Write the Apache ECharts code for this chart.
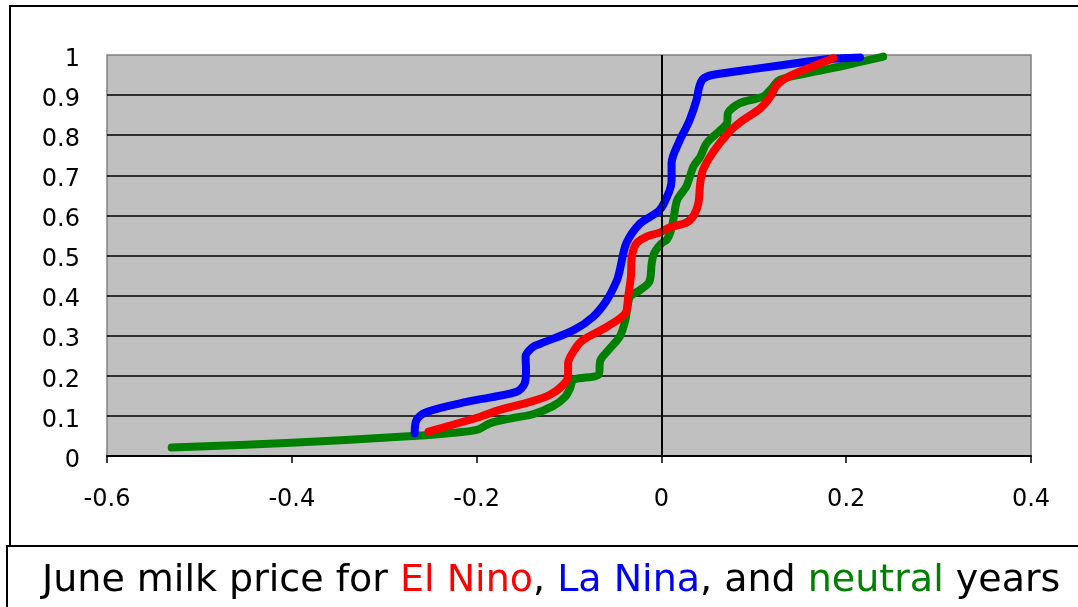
<!DOCTYPE html>
<html>
<head>
<meta charset="utf-8">
<script src="https://cdn.jsdelivr.net/npm/echarts@6/dist/echarts.min.js"></script>
<style>
html,body{margin:0;padding:0;background:#fff;}
#chart{width:1078px;height:607px;}
</style>
</head>
<body>
<div id="chart"></div>
<script>
// La Nina (blue)
const laNinaX = [-0.267, -0.265, -0.254, -0.211, -0.157, -0.148, -0.1465, -0.147, -0.139, -0.131, -0.095, -0.074, -0.059, -0.048, -0.045, -0.038, -0.023, -0.002, 0.009, 0.011, 0.011, 0.020, 0.0255, 0.031, 0.038, 0.041, 0.045, 0.055, 0.103, 0.157, 0.182, 0.215];
const laNinaY = [0.057, 0.090, 0.110, 0.135, 0.160, 0.181, 0.214, 0.248, 0.272, 0.280, 0.314, 0.347, 0.389, 0.439, 0.464, 0.530, 0.580, 0.613, 0.663, 0.688, 0.730, 0.788, 0.813, 0.840, 0.888, 0.921, 0.940, 0.950, 0.966, 0.983, 0.990, 0.994];
// El Nino (red)
const elNinoX = [-0.252, -0.196, -0.175, -0.142, -0.121, -0.106, -0.101, -0.101, -0.094, -0.085, -0.059, -0.039, -0.036, -0.033, -0.032, -0.027, -0.016, -0.002, 0.009, 0.027, 0.035, 0.040, 0.042, 0.045, 0.056, 0.072, 0.085, 0.107, 0.1175, 0.125, 0.136, 0.161, 0.186];
const elNinoY = [0.061, 0.098, 0.115, 0.135, 0.152, 0.178, 0.200, 0.231, 0.265, 0.289, 0.322, 0.356, 0.397, 0.447, 0.497, 0.530, 0.547, 0.557, 0.570, 0.582, 0.600, 0.630, 0.680, 0.713, 0.758, 0.805, 0.832, 0.867, 0.895, 0.925, 0.944, 0.969, 0.992];
// Neutral (green)
const neutralX = [-0.530, -0.400, -0.283, -0.230, -0.200, -0.185, -0.160, -0.139, -0.117, -0.104, -0.099, -0.095, -0.068, -0.066, -0.057, -0.045, -0.039, -0.034, -0.023, -0.013, -0.0105, -0.008, 0.000, 0.006, 0.010, 0.013, 0.017, 0.027, 0.0345, 0.042, 0.049, 0.065, 0.071, 0.072, 0.085, 0.110, 0.118, 0.128, 0.157, 0.2005, 0.240];
const neutralY = [0.021, 0.033, 0.048, 0.057, 0.065, 0.082, 0.095, 0.104, 0.125, 0.148, 0.168, 0.190, 0.203, 0.239, 0.265, 0.298, 0.339, 0.397, 0.414, 0.435, 0.480, 0.505, 0.530, 0.540, 0.560, 0.590, 0.638, 0.672, 0.721, 0.746, 0.780, 0.815, 0.830, 0.855, 0.880, 0.896, 0.913, 0.938, 0.954, 0.975, 0.996];

const xTicks = [-0.6, -0.4, -0.2, 0, 0.2, 0.4];
const yTicks = [0, 0.1, 0.2, 0.3, 0.4, 0.5, 0.6, 0.7, 0.8, 0.9, 1];

const titleParts = [
  ['k', 'June milk price for '], ['r', 'El Nino'], ['k', ', '], ['b', 'La Nina'],
  ['k', ', and '], ['g', 'neutral'], ['k', ' years']
];

function zip(xs, ys) { return xs.map((x, i) => [x, ys[i]]); }
const fmt = v => String(Math.round(v * 10) / 10);

const chart = echarts.init(document.getElementById('chart'), null, {renderer: 'canvas'});
const FF = 'DejaVu Sans';
const richBase = {fontFamily: FF, fontSize: 38};

const lineSeries = (name, data, color) => ({
  name, type: 'line', data, showSymbol: false, smooth: 0.3,
  lineStyle: {color, width: 8, cap: 'round', join: 'round'},
  itemStyle: {color}, z: 3, animation: false
});

chart.setOption({
  animation: false,
  backgroundColor: '#fff',
  graphic: [
    {type: 'rect', z: -10, shape: {x: 10, y: 6, width: 1080, height: 540}, style: {fill: '#fff', stroke: '#000', lineWidth: 2}},
    {type: 'rect', z: -9, shape: {x: 7, y: 546, width: 1080, height: 70}, style: {fill: '#fff', stroke: '#000', lineWidth: 2}}
  ],
  title: {
    text: titleParts.map(p => '{' + p[0] + '|' + p[1] + '}').join(''),
    left: 42, top: 562, padding: 0,
    textStyle: {
      fontFamily: FF, fontSize: 38, fontWeight: 'normal', color: '#000',
      rich: {
        k: Object.assign({color: '#000'}, richBase),
        r: Object.assign({color: '#ff0000'}, richBase),
        b: Object.assign({color: '#0000ff'}, richBase),
        g: Object.assign({color: '#008000'}, richBase)
      }
    }
  },
  grid: {
    left: 107, top: 55, right: 47, bottom: 151,
    show: true, backgroundColor: '#c0c0c0', borderColor: '#808080', borderWidth: 1.5
  },
  xAxis: {
    type: 'value', min: xTicks[0], max: xTicks[xTicks.length - 1], interval: 0.2,
    axisLine: {show: true, onZero: false, lineStyle: {color: '#000', width: 2}},
    axisTick: {show: true, inside: false, length: 7, lineStyle: {color: '#000', width: 1.5}},
    splitLine: {show: false},
    axisLabel: {color: '#000', fontFamily: FF, fontSize: 24, margin: 32, formatter: fmt}
  },
  yAxis: {
    type: 'value', min: yTicks[0], max: yTicks[yTicks.length - 1], interval: 0.1,
    axisLine: {show: false},
    axisTick: {show: false},
    splitLine: {show: true, showMinLine: false, showMaxLine: false, lineStyle: {color: '#000', width: 1.5}},
    axisLabel: {color: '#000', fontFamily: FF, fontSize: 24, margin: 27, verticalAlign: 'top', lineHeight: 9, formatter: fmt}
  },
  series: [
    {
      name: 'zero', type: 'line', data: [], z: 2, animation: false,
      markLine: {silent: true, symbol: 'none', animation: false, label: {show: false},
        lineStyle: {color: '#000', width: 2, type: 'solid'}, data: [{xAxis: 0}]}
    },
    lineSeries('neutral', zip(neutralX, neutralY), '#008000'),
    lineSeries('La Nina', zip(laNinaX, laNinaY), '#0000ff'),
    lineSeries('El Nino', zip(elNinoX, elNinoY), '#ff0000')
  ]
});
</script>
</body>
</html>
